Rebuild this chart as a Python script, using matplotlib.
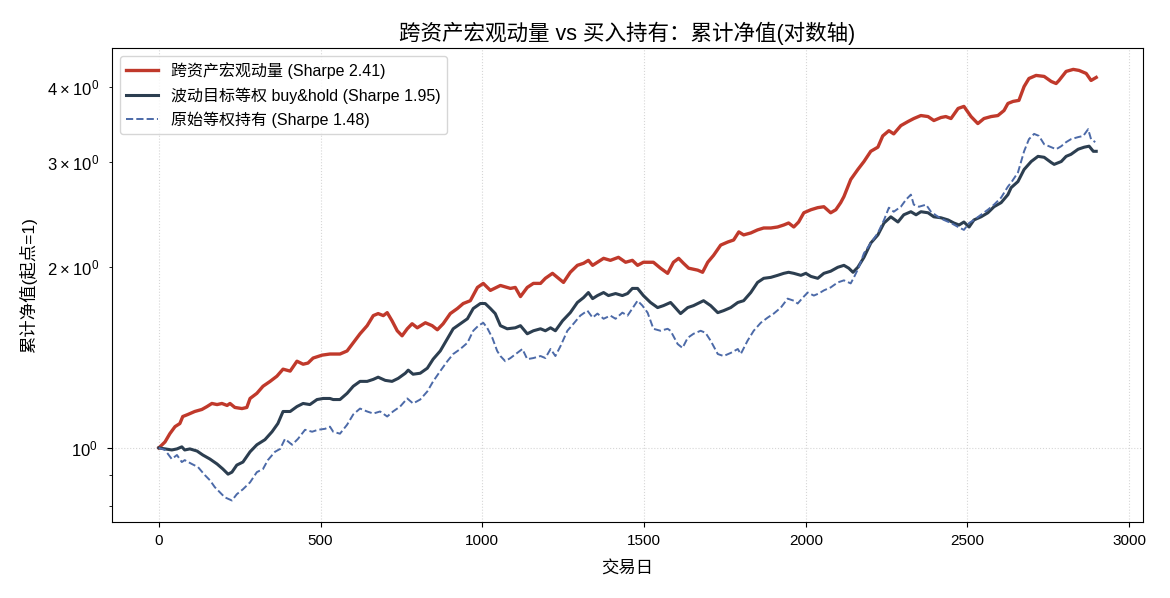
import matplotlib
matplotlib.use("Agg")
import matplotlib.pyplot as plt

plt.rcParams['font.family'] = ['Liberation Sans', 'Noto Sans CJK SC', 'DejaVu Sans']
plt.rcParams['axes.unicode_minus'] = False
plt.rcParams['mathtext.fontset'] = 'custom'
plt.rcParams['mathtext.rm'] = 'Liberation Sans'

# 跨资产宏观动量 (Sharpe 2.41)
mom_days = [0, 19, 34, 50, 65, 74, 90, 111, 133, 149, 164, 180, 195, 211, 220, 235, 257, 272,
            282, 303, 322, 344, 365, 384, 406, 427, 446, 461, 477, 505, 529, 560, 582, 601,
            622, 644, 663, 678, 694, 706, 721, 737, 752, 768, 783, 799, 824, 845, 861, 879,
            901, 923, 941, 963, 985, 1003, 1025, 1056, 1087, 1102, 1118, 1139, 1158, 1180,
            1195, 1217, 1232, 1251, 1272, 1294, 1313, 1328, 1341, 1356, 1375, 1396, 1421,
            1443, 1464, 1480, 1498, 1529, 1551, 1573, 1591, 1607, 1622, 1638, 1666, 1681,
            1697, 1715, 1737, 1759, 1777, 1793, 1808, 1830, 1851, 1870, 1892, 1913, 1932,
            1947, 1963, 1978, 1994, 2016, 2037, 2056, 2077, 2093, 2108, 2118, 2139, 2161,
            2180, 2201, 2223, 2238, 2257, 2272, 2294, 2316, 2334, 2356, 2378, 2396, 2418,
            2433, 2449, 2471, 2489, 2511, 2532, 2551, 2573, 2594, 2613, 2625, 2641, 2659,
            2675, 2690, 2712, 2737, 2759, 2774, 2783, 2805, 2827, 2845, 2867, 2882, 2898]
mom_nav = [1.000, 1.023, 1.056, 1.085, 1.098, 1.128, 1.137, 1.150, 1.159, 1.172, 1.186, 1.181,
           1.186, 1.177, 1.186, 1.168, 1.163, 1.168, 1.209, 1.233, 1.267, 1.291, 1.317, 1.353,
           1.343, 1.395, 1.379, 1.385, 1.412, 1.428, 1.434, 1.434, 1.451, 1.497, 1.550, 1.599,
           1.662, 1.675, 1.662, 1.681, 1.629, 1.568, 1.538, 1.580, 1.611, 1.586, 1.617, 1.599,
           1.574, 1.611, 1.675, 1.708, 1.741, 1.760, 1.852, 1.881, 1.831, 1.866, 1.845, 1.852,
           1.788, 1.852, 1.881, 1.881, 1.918, 1.955, 1.925, 1.888, 1.963, 2.016, 2.032, 2.055,
           2.016, 2.040, 2.071, 2.055, 2.079, 2.040, 2.055, 2.016, 2.040, 2.040, 1.994, 1.955,
           2.040, 2.071, 2.032, 1.994, 1.979, 1.963, 2.040, 2.095, 2.179, 2.205, 2.222, 2.292,
           2.266, 2.283, 2.310, 2.327, 2.327, 2.336, 2.354, 2.372, 2.336, 2.381, 2.467, 2.496,
           2.516, 2.525, 2.467, 2.496, 2.565, 2.625, 2.803, 2.913, 3.004, 3.124, 3.174, 3.314,
           3.381, 3.340, 3.448, 3.502, 3.543, 3.584, 3.570, 3.516, 3.557, 3.570, 3.543, 3.683,
           3.712, 3.570, 3.475, 3.543, 3.570, 3.584, 3.654, 3.754, 3.784, 3.799, 4.006, 4.132,
           4.181, 4.165, 4.085, 4.053, 4.101, 4.246, 4.279, 4.262, 4.213, 4.101, 4.149]

# 波动目标等权 buy&hold (Sharpe 1.95)
vt_days = [0, 19, 40, 56, 71, 80, 96, 118, 136, 158, 180, 198, 214, 226, 241, 260, 282, 303,
           328, 350, 368, 384, 406, 427, 446, 467, 489, 508, 529, 539, 560, 582, 601, 622, 644,
           663, 678, 700, 721, 740, 762, 771, 786, 808, 830, 848, 870, 892, 910, 932, 954, 972,
           994, 1009, 1025, 1040, 1056, 1077, 1102, 1118, 1139, 1158, 1180, 1195, 1211, 1226,
           1248, 1272, 1294, 1313, 1328, 1341, 1356, 1375, 1390, 1412, 1433, 1449, 1464, 1480,
           1498, 1520, 1542, 1560, 1582, 1591, 1613, 1635, 1653, 1684, 1706, 1728, 1746, 1768,
           1790, 1808, 1830, 1851, 1870, 1892, 1913, 1932, 1947, 1963, 1985, 2000, 2016, 2037,
           2056, 2077, 2099, 2118, 2133, 2146, 2161, 2180, 2201, 2223, 2242, 2263, 2285, 2303,
           2325, 2341, 2356, 2378, 2396, 2418, 2440, 2458, 2474, 2489, 2505, 2520, 2542, 2563,
           2582, 2604, 2625, 2635, 2656, 2675, 2697, 2718, 2737, 2759, 2768, 2790, 2805, 2820,
           2842, 2861, 2876, 2889, 2898]
vt_nav = [1.000, 0.996, 0.992, 0.996, 1.004, 0.992, 0.996, 0.988, 0.973, 0.958, 0.940, 0.922,
          0.904, 0.911, 0.936, 0.947, 0.985, 1.012, 1.032, 1.064, 1.098, 1.150, 1.150, 1.172,
          1.186, 1.181, 1.204, 1.209, 1.209, 1.204, 1.204, 1.233, 1.267, 1.291, 1.291, 1.301,
          1.312, 1.296, 1.291, 1.306, 1.332, 1.348, 1.327, 1.332, 1.358, 1.406, 1.451, 1.520,
          1.580, 1.611, 1.642, 1.708, 1.741, 1.741, 1.708, 1.675, 1.599, 1.580, 1.586, 1.599,
          1.550, 1.568, 1.580, 1.568, 1.586, 1.568, 1.629, 1.681, 1.748, 1.781, 1.816, 1.774,
          1.795, 1.816, 1.795, 1.809, 1.795, 1.809, 1.845, 1.845, 1.795, 1.748, 1.714, 1.727,
          1.748, 1.727, 1.675, 1.714, 1.727, 1.760, 1.727, 1.681, 1.694, 1.714, 1.748, 1.760,
          1.816, 1.888, 1.918, 1.925, 1.940, 1.955, 1.963, 1.955, 1.940, 1.955, 1.932, 1.918,
          1.955, 1.971, 2.001, 2.016, 1.994, 1.963, 2.001, 2.079, 2.196, 2.266, 2.372, 2.429,
          2.381, 2.448, 2.477, 2.448, 2.477, 2.467, 2.429, 2.420, 2.400, 2.372, 2.354, 2.381,
          2.336, 2.400, 2.429, 2.467, 2.525, 2.565, 2.645, 2.717, 2.781, 2.913, 3.004, 3.064,
          3.053, 2.992, 2.971, 3.004, 3.064, 3.088, 3.149, 3.174, 3.186, 3.124, 3.124]

# 原始等权持有 (Sharpe 1.48)
ew_days = [0, 19, 40, 56, 71, 80, 102, 121, 142, 158, 173, 189, 204, 226, 241, 260, 282, 303,
           322, 337, 359, 375, 390, 412, 430, 452, 474, 492, 514, 529, 539, 560, 582, 601, 622,
           644, 663, 684, 706, 724, 746, 768, 786, 808, 830, 848, 870, 892, 910, 932, 954, 972,
           988, 1003, 1015, 1031, 1046, 1056, 1071, 1087, 1108, 1124, 1139, 1158, 1180, 1195,
           1211, 1226, 1242, 1263, 1282, 1303, 1325, 1341, 1356, 1375, 1396, 1412, 1433, 1449,
           1464, 1480, 1495, 1511, 1529, 1551, 1573, 1582, 1604, 1619, 1635, 1653, 1675, 1690,
           1706, 1728, 1746, 1768, 1790, 1799, 1820, 1839, 1861, 1882, 1901, 1923, 1944, 1963,
           1975, 1991, 2006, 2025, 2040, 2056, 2077, 2099, 2118, 2139, 2149, 2164, 2180, 2201,
           2223, 2242, 2257, 2272, 2294, 2310, 2325, 2334, 2350, 2372, 2387, 2409, 2427, 2449,
           2471, 2489, 2505, 2520, 2542, 2563, 2582, 2604, 2625, 2635, 2656, 2675, 2690, 2706,
           2721, 2737, 2759, 2774, 2790, 2805, 2820, 2842, 2858, 2873, 2882, 2895]
ew_nav = [1.000, 0.992, 0.958, 0.973, 0.947, 0.954, 0.940, 0.929, 0.901, 0.883, 0.860, 0.843,
          0.827, 0.817, 0.837, 0.853, 0.876, 0.911, 0.922, 0.954, 0.985, 0.996, 1.035, 1.012,
          1.035, 1.072, 1.064, 1.072, 1.076, 1.085, 1.064, 1.056, 1.093, 1.137, 1.163, 1.150,
          1.141, 1.150, 1.128, 1.150, 1.172, 1.209, 1.186, 1.204, 1.242, 1.291, 1.343, 1.395,
          1.434, 1.462, 1.497, 1.568, 1.599, 1.617, 1.586, 1.526, 1.451, 1.423, 1.395, 1.412,
          1.440, 1.462, 1.406, 1.412, 1.423, 1.412, 1.462, 1.423, 1.479, 1.568, 1.611, 1.662,
          1.694, 1.649, 1.675, 1.642, 1.662, 1.642, 1.681, 1.662, 1.708, 1.760, 1.727, 1.681,
          1.580, 1.568, 1.580, 1.568, 1.490, 1.468, 1.526, 1.550, 1.568, 1.556, 1.509, 1.434,
          1.423, 1.440, 1.462, 1.434, 1.509, 1.568, 1.617, 1.649, 1.675, 1.714, 1.774, 1.760,
          1.741, 1.781, 1.816, 1.795, 1.809, 1.831, 1.852, 1.888, 1.903, 1.881, 1.925, 2.001,
          2.112, 2.196, 2.283, 2.400, 2.516, 2.477, 2.525, 2.595, 2.645, 2.545, 2.525, 2.545,
          2.477, 2.429, 2.400, 2.372, 2.336, 2.310, 2.372, 2.400, 2.448, 2.496, 2.545, 2.615,
          2.728, 2.770, 2.880, 3.124, 3.273, 3.340, 3.314, 3.210, 3.174, 3.149, 3.186, 3.236,
          3.273, 3.299, 3.314, 3.401, 3.273, 3.236]

labels = ['跨资产宏观动量 (Sharpe 2.41)',
          '波动目标等权 buy&hold (Sharpe 1.95)',
          '原始等权持有 (Sharpe 1.48)']

fig, ax = plt.subplots(figsize=(11.7, 5.98), dpi=100)
fig.subplots_adjust(left=0.0957, right=0.977, top=0.920, bottom=0.127)

ax.plot(mom_days, mom_nav, color='#c0392b', lw=2.4, label=labels[0])
ax.plot(vt_days, vt_nav, color='#2c3e50', lw=2.2, label=labels[1])
ax.plot(ew_days, ew_nav, color='#4c6aa8', lw=1.4, ls='--', label=labels[2])

ax.set_yscale('log')
ax.grid(True, ls=':', color='#cccccc', lw=0.8, alpha=0.8)
ax.tick_params(axis='x', labelsize=11, pad=5)
ax.tick_params(axis='y', which='both', labelsize=12, pad=7)
ax.set_title('跨资产宏观动量 vs 买入持有：累计净值(对数轴)', fontsize=15.5, pad=6)
ax.set_xlabel('交易日', fontsize=12.5, labelpad=9)
ax.set_ylabel('累计净值(起点=1)', fontsize=12.5, labelpad=7)
ax.legend(loc='upper left', fontsize=11.5)

fig.savefig('out.png', dpi=100)
